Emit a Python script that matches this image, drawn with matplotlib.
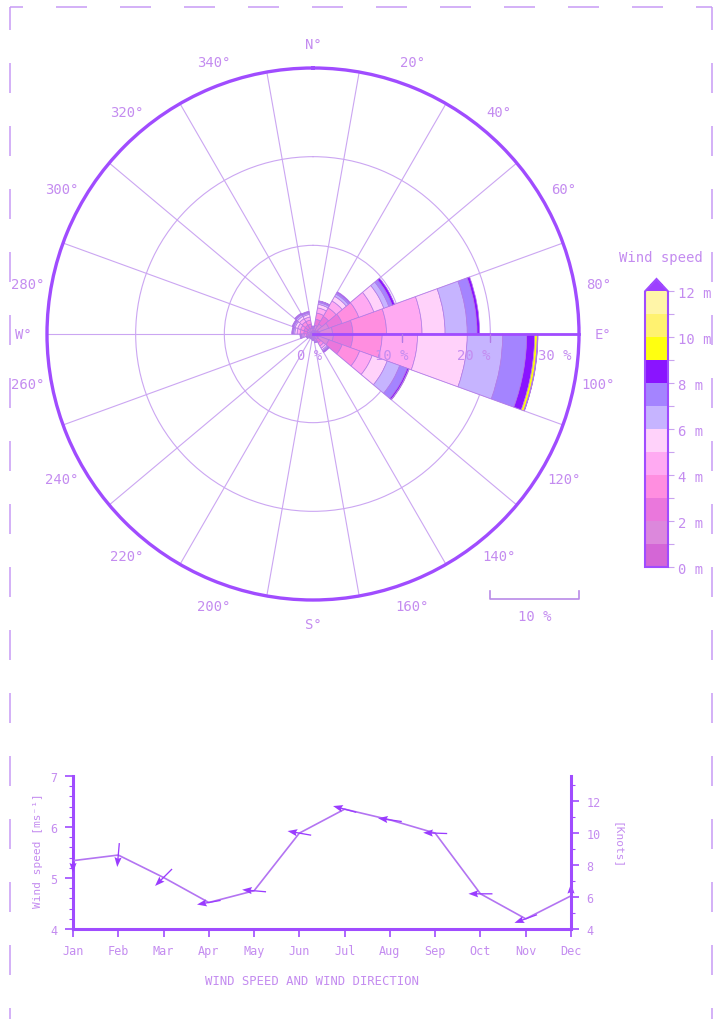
import numpy as np
import matplotlib
matplotlib.use('Agg')
import matplotlib as mpl
import matplotlib.pyplot as plt
from matplotlib.colors import ListedColormap, BoundaryNorm
from matplotlib.lines import Line2D
from matplotlib.ticker import MultipleLocator

plt.rcParams['font.family'] = ['DejaVu Sans Mono', 'DejaVu Sans']
plt.rcParams['lines.scale_dashes'] = False

TXT = '#c48cf0'
PURPLE = '#a04cff'
GRID = '#cba6f2'
EDGE = '#b27ae6'

# wind rose: frequency (%) per direction sector, one list per speed class
directions = np.arange(0, 360, 20)
s0_1 = [0.15, 0.4, 0.5, 0.7, 0.8, 0.8, 0.7, 0.3, 0.2, 0.15, 0.12, 0.12, 0.15, 0.25, 0.3, 0.3, 0.3, 0.3]
s1_2 = [0.15, 0.6, 0.8, 1.2, 1.4, 1.5, 1.2, 0.4, 0.2, 0.15, 0.12, 0.12, 0.15, 0.25, 0.35, 0.4, 0.4, 0.4]
s2_3 = [0.15, 0.7, 1.0, 1.6, 2.3, 2.2, 1.6, 0.45, 0.2, 0.12, 0.1, 0.1, 0.15, 0.25, 0.4, 0.4, 0.45, 0.45]
s3_4 = [0.15, 0.7, 1.1, 2.0, 3.8, 3.3, 2.1, 0.4, 0.15, 0.1, 0.1, 0.1, 0.12, 0.2, 0.4, 0.4, 0.45, 0.45]
s4_5 = [0.1, 0.6, 0.9, 1.8, 4.0, 4.0, 1.5, 0.3, 0.1, 0.08, 0.06, 0.06, 0.1, 0.18, 0.35, 0.35, 0.4, 0.35]
s5_6 = [0.08, 0.4, 0.6, 1.2, 2.6, 5.6, 1.8, 0.2, 0.08, 0.05, 0.04, 0.04, 0.06, 0.12, 0.25, 0.3, 0.3, 0.3]
s6_7 = [0.05, 0.2, 0.3, 0.6, 2.5, 4.0, 1.5, 0.15, 0.05, 0.03, 0.03, 0.03, 0.04, 0.1, 0.15, 0.15, 0.2, 0.15]
s7_8 = [0.04, 0.15, 0.2, 0.4, 1.1, 2.7, 0.9, 0.1, 0.02, 0.02, 0.02, 0.02, 0.03, 0.08, 0.12, 0.12, 0.12, 0.12]
s8_9 = [0.03, 0.05, 0.1, 0.3, 0.3, 0.9, 0.2, 0.1, 0, 0, 0, 0, 0, 0.05, 0.08, 0.08, 0.08, 0.08]
s9_10 = [0, 0, 0, 0, 0, 0.3, 0.05, 0, 0, 0, 0, 0, 0, 0, 0, 0, 0, 0]
s10_11 = [0, 0, 0, 0, 0, 0.05, 0, 0, 0, 0, 0, 0, 0, 0, 0, 0, 0, 0]
s11_12 = [0, 0, 0, 0, 0, 0.02, 0, 0, 0, 0, 0, 0, 0, 0, 0, 0, 0, 0]
speed_classes = [s0_1, s1_2, s2_3, s3_4, s4_5, s5_6, s6_7, s7_8, s8_9, s9_10, s10_11, s11_12]
class_colors = ['#d466d6', '#dc88dc', '#ea77dc', '#ff8ee0', '#ffaaf2', '#ffd2fa',
                '#c6b4ff', '#a484ff', '#8a14ff', '#ffff10', '#fff270', '#fff5a8']
over_color = '#9d40ff'

label_angles = list(range(0, 360, 20)) + [90, 270]
label_texts = ['N°', '20°', '40°', '60°', '80°', '100°', '120°', '140°', '160°',
               'S°', '200°', '220°', '240°', '260°', '280°', '300°', '320°', '340°',
               'E°', 'W°']
ring_values = [0, 10, 20, 30]

# monthly mean wind speed and direction arrows
months = ['Jan', 'Feb', 'Mar', 'Apr', 'May', 'Jun', 'Jul', 'Aug', 'Sep', 'Oct', 'Nov', 'Dec']
wind_speed = [5.34, 5.45, 5.01, 4.52, 4.75, 5.88, 6.35, 6.14, 5.88, 4.69, 4.20, 4.65]
arrow_angle = [270, 265, 225, 190, 175, 170, 165, 172, 178, 180, 200, 90]
knot_ticks = [4, 6, 8, 10, 12]

W, H = 726, 1020
fig = plt.figure(figsize=(W / 100, H / 100), dpi=100)

# ---- wind rose ----
cx, cy, R = 313, 335, 266
ax = fig.add_axes([(cx - R) / W, 1 - (cy + R) / H, 2 * R / W, 2 * R / H], projection='polar')
ax.set_theta_zero_location('N')
ax.set_theta_direction(-1)
ax.set_ylim(0, 30)
ax.set_axisbelow(True)
ax.set_rgrids([10, 20], labels=['', ''])
ax.set_thetagrids(np.arange(10, 360, 20), labels=[])
ax.grid(True, color=GRID, lw=0.8)
ax.spines['polar'].set_color(PURPLE)
ax.spines['polar'].set_linewidth(2.4)
ax.tick_params(length=0)

theta = np.deg2rad(directions)
width = np.deg2rad(20)
bottom = np.zeros(len(directions))
for vals, col in zip(speed_classes, class_colors):
    vals = np.array(vals, dtype=float)
    m = vals > 0
    ax.bar(theta[m], vals[m], width=width, bottom=bottom[m], color=col,
           edgecolor=EDGE, linewidth=0.5, zorder=2)
    bottom += vals

# east radius axis with ticks
ax.plot([np.pi / 2, np.pi / 2], [0, 30], color=PURPLE, lw=2, zorder=4, clip_on=False)
ax.plot([np.pi / 2] * 2, [10, 20], ls='none', marker=3, ms=6, color=EDGE, zorder=4)
for r in ring_values:
    ax.annotate(f'{r} %', xy=(np.pi / 2, r), xytext=(-2.2 - 0.5 * r, -15),
                textcoords='offset points', ha='center', va='center',
                fontsize=10, color=TXT, zorder=5)

for a, t in zip(label_angles, label_texts):
    ax.text(np.deg2rad(a), 32.7, t, ha='center', va='center', fontsize=10,
            color=TXT, clip_on=False)

# 10 % scale bar below the rose
frac = 0.5 * 10 / 30
ax.plot([1 - frac, 1 - frac, 1, 1], [0.016, 0.002, 0.002, 0.016], transform=ax.transAxes,
        color='#b98ae8', lw=1.2, clip_on=False)
ax.text(1 - frac / 2, -0.03, '10 %', transform=ax.transAxes, ha='center', va='center',
        fontsize=10, color=TXT)

# ---- colour scale ----
cax = fig.add_axes([645 / W, 1 - 568 / H, 23 / W, 288 / H])
cmap = ListedColormap(class_colors)
cmap.set_over(over_color)
norm = BoundaryNorm(np.arange(0, 13), cmap.N)
cb = mpl.colorbar.ColorbarBase(cax, cmap=cmap, norm=norm, extend='max',
                               extendfrac=0.045, ticks=np.arange(0, 13, 2))
cb.set_ticklabels([f'{v} m' for v in range(0, 13, 2)])
cb.outline.set_edgecolor(PURPLE)
cb.outline.set_linewidth(1.5)
cax.yaxis.set_minor_locator(MultipleLocator(1))
cax.tick_params(which='both', colors='#c9a3f0', labelcolor=TXT, labelsize=10, length=4, width=0.8)
fig.text(661 / W, 1 - 258 / H, 'Wind speed', ha='center', va='center', fontsize=10, color=TXT)

# ---- monthly speed / direction ----
ax2 = fig.add_axes([73 / W, 1 - 930 / H, 498 / W, 153 / H])
x = np.arange(len(months))
ax2.plot(x, wind_speed, color='#b374f2', lw=1.2, zorder=3, clip_on=False)
rad = np.deg2rad(arrow_angle)
ax2.quiver(x, wind_speed, np.cos(rad), np.sin(rad), angles='uv', pivot='middle',
           scale_units='inches', scale=1 / 0.24, units='inches', width=0.013,
           headwidth=5.5, headlength=7.5, headaxislength=6.5, color='#9a3cff',
           zorder=4, clip_on=False)
ax2.set_xlim(0, 11)
ax2.set_ylim(4, 7)
ax2.set_xticks(x)
ax2.set_xticklabels(months)
ax2.set_yticks([4, 5, 6, 7])
ax2.yaxis.set_minor_locator(MultipleLocator(0.2))
for s in ['top', 'right']:
    ax2.spines[s].set_visible(False)
for s in ['left', 'bottom']:
    ax2.spines[s].set_color(PURPLE)
    ax2.spines[s].set_linewidth(2.2)
ax2.tick_params(which='major', length=6, width=1.2, color=PURPLE, labelcolor=TXT,
                labelsize=8.5, pad=5)
ax2.tick_params(which='minor', length=3, width=0.8, color=PURPLE)
ax2.set_ylabel('Wind speed [ms⁻¹]', color=TXT, fontsize=8)
ax2.yaxis.set_label_coords(-30 / 498, 0.52)

ax3 = ax2.twinx()
ax3.set_ylim(4, 4 + 153 / 16)
ax3.set_yticks(knot_ticks)
ax3.yaxis.set_minor_locator(MultipleLocator(1))
for s in ['top', 'left', 'bottom']:
    ax3.spines[s].set_visible(False)
ax3.spines['right'].set_color(PURPLE)
ax3.spines['right'].set_linewidth(2.2)
ax3.tick_params(which='major', length=6, width=1.2, color=PURPLE, labelcolor=TXT,
                labelsize=8.5, pad=5)
ax3.tick_params(which='minor', length=3, width=0.8, color=PURPLE)
ax3.set_ylabel('[Knots]', color=TXT, fontsize=8, rotation=270, va='center')
ax3.yaxis.set_label_coords(1 + 46 / 498, 0.55)

fig.text(312 / W, 1 - 982 / H, 'WIND SPEED AND WIND DIRECTION', ha='center', va='center',
         fontsize=8.8, color=TXT)

# ---- dashed page frame ----
px = 0.72
frame = dict(color='#c79bf5', lw=1.1, transform=fig.transFigure)
left, right, top = 10 / W, 712 / W, 1 - 8 / H
fig.add_artist(Line2D([left, right], [top, top],
                      linestyle=(18 * px, (31 * px, 33 * px)), **frame))
fig.add_artist(Line2D([left, left], [top, 0],
                      linestyle=(7 * px, (30 * px, 33 * px)), **frame))
fig.add_artist(Line2D([right, right], [top, 0],
                      linestyle=(7 * px, (30 * px, 33 * px)), **frame))

fig.savefig('out.png', dpi=100, facecolor='white')
